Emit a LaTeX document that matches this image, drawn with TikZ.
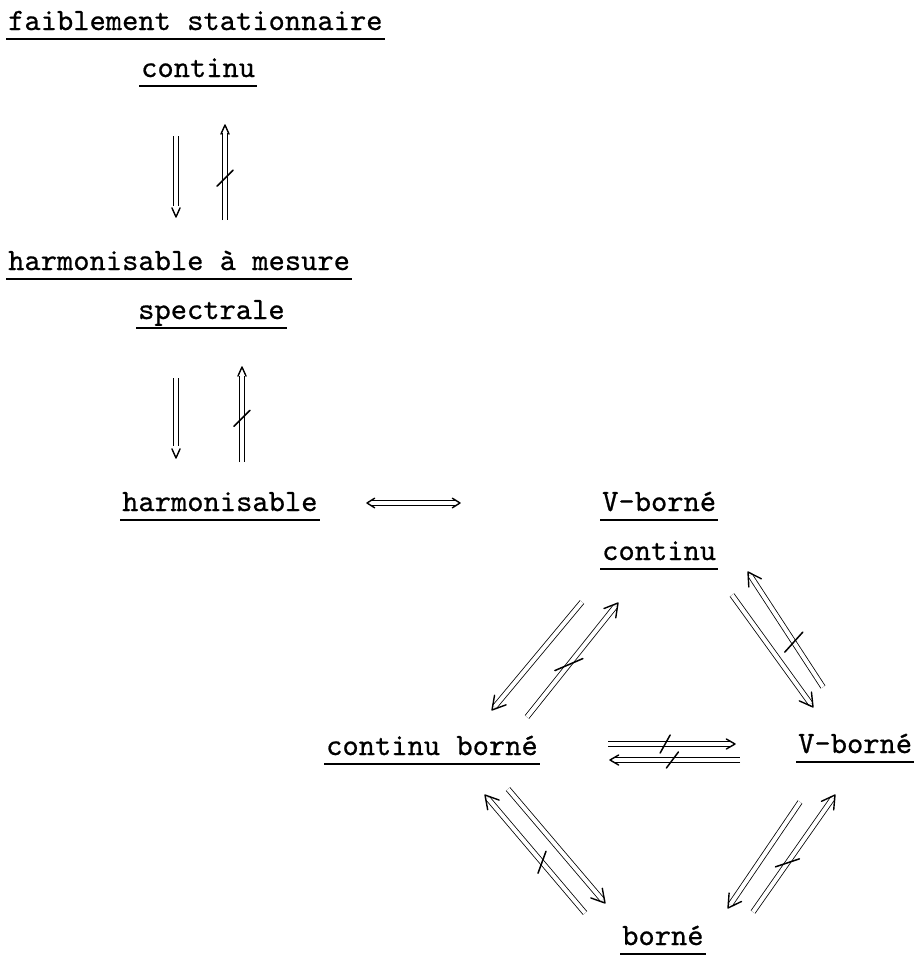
\documentclass[tikz,border=0pt]{standalone}
\usepackage{fontspec}
\newfontfamily\twfont{lmmono10-regular.otf}[FakeBold=0.6]
\usetikzlibrary{calc}
\tikzset{
  lbl/.style={font=\twfont\fontsize{31}{37}\selectfont, inner sep=0pt, anchor=base west},
  ul/.style={line width=1.7pt},
  dbl/.style={double, double distance=4pt, line width=0.8pt},
  tipln/.style={line width=1.4pt, line cap=round, line join=round},
  nogo/.style={line width=1.5pt, line cap=round},
}
% start, end, shorten, arm length, half angle
\newcommand\imparrow[5]{%
  \draw[dbl, shorten >=#3] (#1) -- (#2);
  \draw[tipln] ($(#2)!#4!#5:(#1)$) -- (#2) -- ($(#2)!#4!-#5:(#1)$);
}
% start, end, position, half-width, half-height of a "/" stroke
\newcommand\nogoslash[5]{%
  \draw[nogo] ($(#1)!#3!(#2)$) ++(-#4,#5) -- ++(2*#4,-2*#5);
}
\newcommand\uline[1]{%
  \draw[ul] ([xshift=-2pt,yshift=-9pt]#1.base west) -- ([xshift=2pt,yshift=-9pt]#1.base east);
}
\begin{document}
\begin{tikzpicture}[x=1pt,y=-1pt]
\useasboundingbox (0,0) rectangle (921,956);
% labels
\node[lbl] (fs)  at (8,30)    {faiblement stationnaire};
\node[lbl] (fsc) at (141,77)  {continu};
\node[lbl] (hm)  at (8,270)   {harmonisable à mesure};
\node[lbl] (hms) at (138,319) {spectrale};
\node[lbl] (h)   at (122,511) {harmonisable};
\node[lbl] (vb)  at (602,511) {V-borné};
\node[lbl] (vbc) at (602,560) {continu};
\node[lbl] (cb)  at (326,755) {continu borné};
\node[lbl] (vb2) at (798,753) {V-borné};
\node[lbl] (b)   at (622,945) {borné};
\foreach \n in {fs,fsc,hm,hms,h,vb,vbc,cb,vb2,b} {\uline{\n}}
% arrow end points
\coordinate (a1s) at (176,136); \coordinate (a1e) at (176,217);
\coordinate (a2s) at (225,220); \coordinate (a2e) at (225,125);
\coordinate (a3s) at (176,378); \coordinate (a3e) at (176,458);
\coordinate (a4s) at (242,462); \coordinate (a4e) at (242,367);
\coordinate (h1s) at (367,503); \coordinate (h1e) at (460,503);
\coordinate (l1s) at (582,602); \coordinate (l1e) at (492,710);
\coordinate (l2s) at (527,717); \coordinate (l2e) at (618,603);
\coordinate (r1s) at (732,595); \coordinate (r1e) at (813,707);
\coordinate (r2s) at (823,687); \coordinate (r2e) at (748,572);
\coordinate (m1s) at (608,744); \coordinate (m1e) at (735,744);
\coordinate (m2s) at (740,760); \coordinate (m2e) at (610,760);
\coordinate (b1s) at (508,789); \coordinate (b1e) at (605,903);
\coordinate (b2s) at (585,913); \coordinate (b2e) at (485,795);
\coordinate (c1s) at (800,802); \coordinate (c1e) at (728,908);
\coordinate (c2s) at (753,912); \coordinate (c2e) at (835,795);
% vertical implications
\imparrow{a1s}{a1e}{11pt}{10pt}{24}
\imparrow{a2s}{a2e}{8pt}{10pt}{24}
\nogoslash{a2s}{a2e}{0.44}{8}{8}
\imparrow{a3s}{a3e}{12pt}{10pt}{24}
\imparrow{a4s}{a4e}{9pt}{10pt}{24}
\nogoslash{a4s}{a4e}{0.46}{8}{8}
% harmonisable <=> V-borne continu
\draw[dbl, shorten <=3pt, shorten >=3pt] (h1s) -- (h1e);
\draw[tipln] ($(h1e)!9pt!32:(h1s)$) -- (h1e) -- ($(h1e)!9pt!-32:(h1s)$);
\draw[tipln] ($(h1s)!9pt!32:(h1e)$) -- (h1s) -- ($(h1s)!9pt!-32:(h1e)$);
% triangle and square
\imparrow{l1s}{l1e}{4pt}{15pt}{30}
\imparrow{l2s}{l2e}{4pt}{15pt}{30}
\nogoslash{l2s}{l2e}{0.46}{14}{6}
\imparrow{r1s}{r1e}{4pt}{15pt}{30}
\imparrow{r2s}{r2e}{4pt}{15pt}{30}
\nogoslash{r2s}{r2e}{0.39}{9}{10}
\imparrow{m1s}{m1e}{4pt}{10pt}{30}
\nogoslash{m1s}{m1e}{0.45}{5}{9}
\imparrow{m2s}{m2e}{4pt}{10pt}{30}
\nogoslash{m2s}{m2e}{0.52}{6}{8}
\imparrow{b1s}{b1e}{4pt}{15pt}{30}
\imparrow{b2s}{b2e}{4pt}{15pt}{30}
\nogoslash{b2s}{b2e}{0.43}{4}{11}
\imparrow{c1s}{c1e}{4pt}{15pt}{30}
\imparrow{c2s}{c2e}{4pt}{15pt}{30}
\nogoslash{c2s}{c2e}{0.42}{12}{4}
\end{tikzpicture}
\end{document}
